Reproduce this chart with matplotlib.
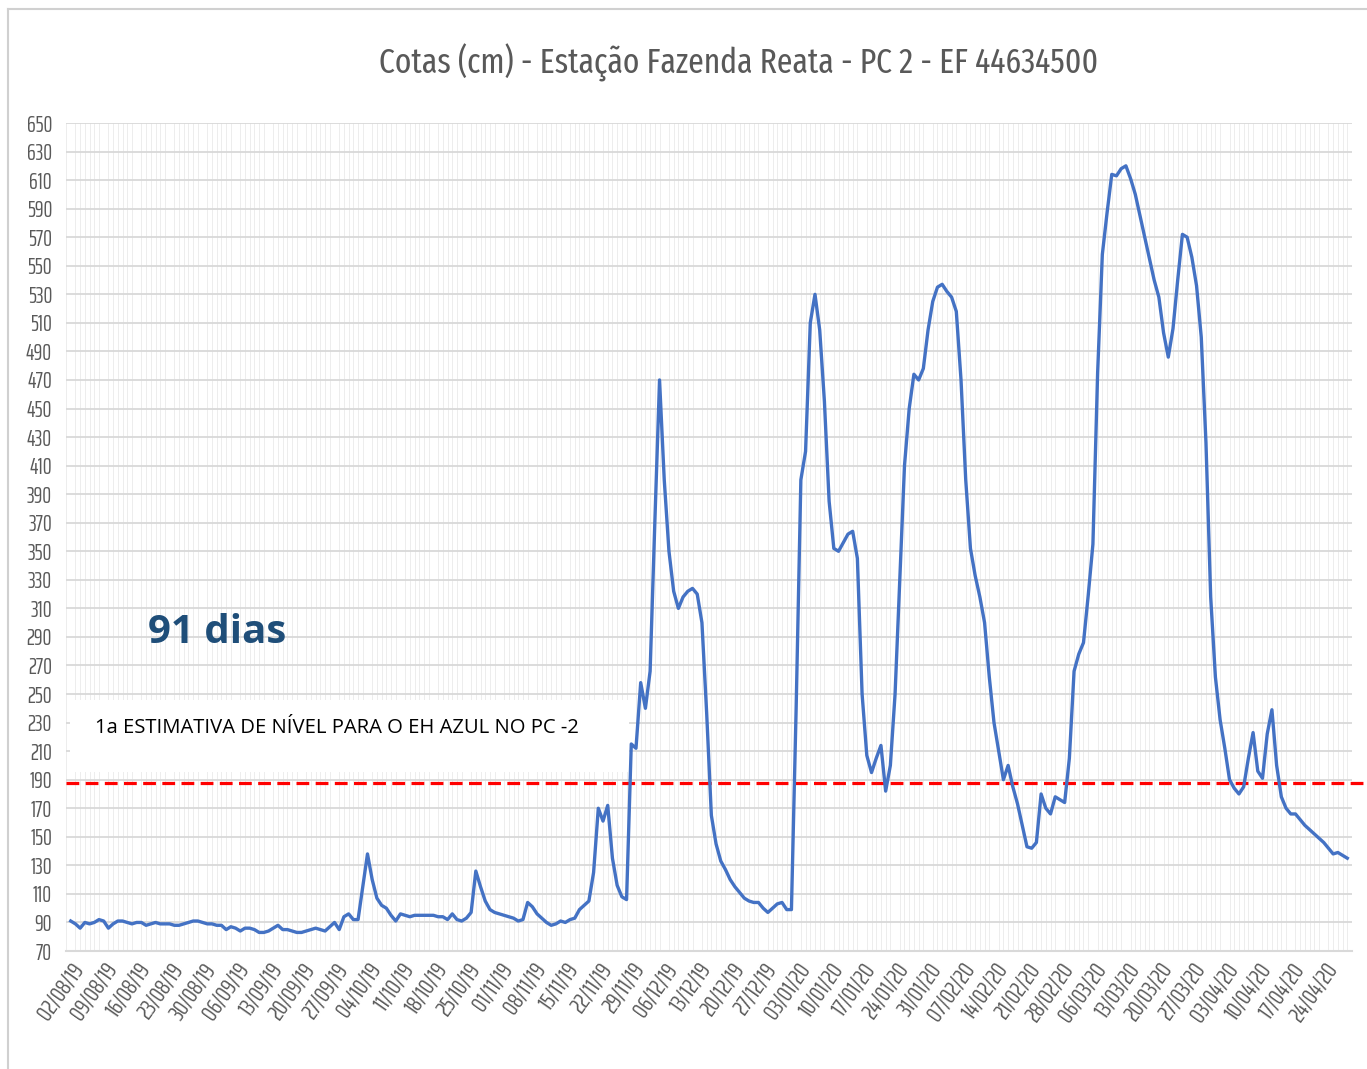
import matplotlib
matplotlib.use("Agg")
import matplotlib.pyplot as plt
import matplotlib.dates as mdates
from matplotlib.patches import Rectangle
from matplotlib.lines import Line2D
import datetime as dt

# ---------------- data ----------------
start_date = dt.date(2019, 8, 2)
cotas = [
    91, 89, 86, 90, 89, 90, 92, 91, 86, 89,
    91, 91, 90, 89, 90, 90, 88, 89, 90, 89,
    89, 89, 88, 88, 89, 90, 91, 91, 90, 89,
    89, 88, 88, 85, 87, 86, 84, 86, 86, 85,
    83, 83, 84, 86, 88, 85, 85, 84, 83, 83,
    84, 85, 86, 85, 84, 87, 90, 85, 94, 96,
    92, 92, 115, 138, 120, 107, 102, 100, 95, 91,
    96, 95, 94, 95, 95, 95, 95, 95, 94, 94,
    92, 96, 92, 91, 93, 97, 126, 115, 105, 99,
    97, 96, 95, 94, 93, 91, 92, 104, 101, 96,
    93, 90, 88, 89, 91, 90, 92, 93, 99, 102,
    105, 125, 170, 161, 172, 135, 116, 108, 106, 215,
    212, 258, 240, 266, 370, 470, 400, 350, 322, 310,
    318, 322, 324, 320, 300, 237, 165, 145, 133, 127,
    120, 115, 111, 107, 105, 104, 104, 100, 97, 100,
    103, 104, 99, 99, 240, 400, 420, 510, 530, 505,
    455, 385, 352, 350, 356, 362, 364, 345, 250, 207,
    195, 205, 214, 182, 200, 250, 330, 410, 450, 474,
    470, 478, 505, 525, 535, 537, 532, 528, 518, 470,
    400, 352, 333, 318, 300, 262, 230, 210, 190, 200,
    185, 173, 158, 143, 142, 146, 180, 170, 166, 178,
    176, 174, 205, 266, 278, 286, 319, 355, 475, 558,
    587, 614, 613, 618, 620, 611, 600, 585, 570, 555,
    540, 528, 503, 486, 506, 540, 572, 570, 556, 536,
    500, 426, 318, 262, 232, 212, 190, 184, 180, 185,
    205, 223, 196, 191, 222, 239, 200, 178, 170, 166,
    166, 162, 158, 155, 152, 149, 146, 142, 138, 139,
    137, 135,
]
dates = [start_date + dt.timedelta(days=i) for i in range(len(cotas))]
tick_dates = [start_date + dt.timedelta(days=7 * k) for k in range(39)]
tick_labels = [d.strftime("%d/%m/%y") for d in tick_dates]
y_ticks = list(range(70, 651, 20))
threshold = 188

title = "Cotas (cm) - Estação Fazenda Reata - PC 2 - EF 44634500"
note = "1a ESTIMATIVA DE NÍVEL PARA O EH AZUL NO PC -2"
days_label = "91 dias"

# ---------------- figure ----------------
W, H = 1367, 1069
fig = plt.figure(figsize=(W / 100, H / 100), dpi=100)
fig.patch.set_facecolor("white")

L, R, T, B = 66, 1352, 123, 951
ax = fig.add_axes([L / W, 1 - B / H, (R - L) / W, (B - T) / H])

tick_font = ["Saira ExtraCondensed", "DejaVu Sans"]
title_font = ["Fira Sans Extra Condensed", "DejaVu Sans"]
gray = "#595959"

x0 = mdates.date2num(start_date)
ax.set_xlim(x0 - 0.2, x0 + 271.9)
ax.set_ylim(70, 650)

# daily faint vertical grid
ax.set_xticks([mdates.date2num(start_date + dt.timedelta(days=i)) for i in range(-1, 273)], minor=True)
ax.grid(True, which="minor", axis="x", color="#EDEDED", linewidth=0.7, zorder=0)
ax.set_yticks(y_ticks)
ax.grid(True, which="major", axis="y", color="#D9D9D9", linewidth=1.3, zorder=1)
ax.set_xticks([mdates.date2num(d) for d in tick_dates])
ax.set_xticklabels(tick_labels, rotation=55, ha="right", rotation_mode="anchor",
                   family=tick_font, fontweight=400, fontsize=17, color=gray)
ax.set_yticklabels([str(v) for v in y_ticks], family=tick_font, fontweight=400,
                   fontsize=16, color=gray)
ax.tick_params(axis="both", which="both", length=0)
ax.tick_params(axis="x", pad=6)
ax.tick_params(axis="y", pad=10)

for s in ["left", "right", "top"]:
    ax.spines[s].set_visible(False)
ax.spines["bottom"].set_color("#D9D9D9")
ax.spines["bottom"].set_linewidth(1.5)

# white box behind note
ax.add_patch(Rectangle((x0 - 0.2, 195.5), 118.7, 50.5, facecolor="white",
                       edgecolor="none", zorder=2))
ax.text(x0 + 5.2, 226, note, fontsize=14.6, family=["Open Sans", "DejaVu Sans"],
        color="black", va="center", ha="left", zorder=3)

# threshold line
ax.axhline(threshold, xmin=0, xmax=1.02, color="#FF0000", linewidth=2.3,
           dashes=(4, 2), clip_on=False, zorder=4)

# series
ax.plot(dates, cotas, color="#4472C4", linewidth=2.4, zorder=5, solid_joinstyle="round")

ax.text(x0 + 16.4, 293, days_label, fontsize=29, fontweight="bold",
        family=["Open Sans", "DejaVu Sans"], color="#1F4E79", va="center", ha="left", zorder=6)

fig.text(739 / W, 1 - 63 / H, title, fontsize=24.6, family=title_font, fontweight=400,
         color=gray, ha="center", va="center")

# chart border (slide crop)
fig.add_artist(Line2D([8 / W, 8 / W], [0, 1 - 9 / H], transform=fig.transFigure,
                      color="#D0D0D0", linewidth=1.5))
fig.add_artist(Line2D([8 / W, 1], [1 - 9 / H, 1 - 9 / H], transform=fig.transFigure,
                      color="#D0D0D0", linewidth=1.5))

fig.savefig("out.png", dpi=100, facecolor="white")
